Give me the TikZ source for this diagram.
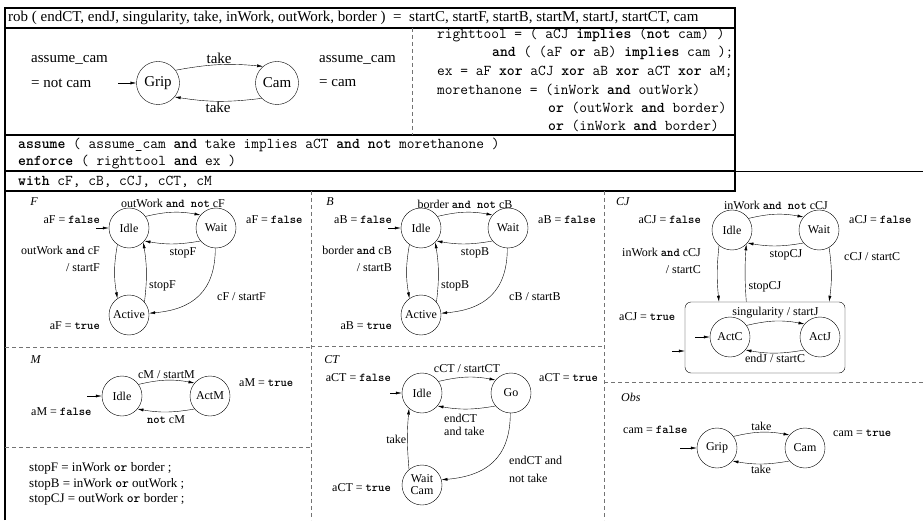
\documentclass[tikz,border=0pt]{standalone}
\usepackage{fontspec}
\setmainfont{Liberation Serif}
\usetikzlibrary{arrows.meta}
\newcommand{\kw}[1]{\texttt{\textbf{#1}}}

\begin{document}
\begin{tikzpicture}[x=1pt,y=1pt,
  st/.style={circle,draw,line width=0.4pt,minimum size=40pt,inner sep=0pt,font=\fontsize{12}{12}\selectfont},
  bigst/.style={st,minimum size=43pt,font=\fontsize{15}{18}\selectfont},
  trans/.style={-{Latex[length=6pt,width=3pt]},line width=0.4pt},
  lbl/.style={inner sep=1pt,font=\fontsize{12}{14}\selectfont},
  biglbl/.style={inner sep=1pt,font=\fontsize{15}{18}\selectfont},
  code/.style={inner sep=0pt,anchor=west,font=\fontsize{15}{18}\selectfont\ttfamily},
  sep/.style={dash pattern=on 4pt off 3pt,line width=0.5pt,black!55},
  frame/.style={line width=1.2pt}]

\useasboundingbox (0,0) rectangle (923,520);

% frame of the specification
\draw[frame] (5,0) -- (5,512) -- (735,512) -- (735,329) -- (5,329);
\draw[frame] (5,492) -- (735,492);
\draw[frame] (5,385) -- (735,385);
\draw[frame] (5,349) -- (735,349);
\draw[line width=0.8pt] (735,349) -- (923,349);
\draw[sep] (412,492) -- (412,385);

% panels
\draw[sep] (311,329) -- (311,0);
\draw[sep] (604,329) -- (604,0);
\draw[sep] (5,173) -- (311,173);
\draw[sep] (311,174) -- (604,174);
\draw[sep] (5,73) -- (311,73);
\draw[sep] (604,138) -- (923,138);

% header
\node[biglbl,anchor=west] (head) at (7,502) {rob ( endCT, endJ, singularity, take, inWork, outWork, border ) \ = \ startC, startF, startB, startM, startJ, startCT, cam};

% assumption automaton
\node[biglbl,anchor=west] (asmL) at (30,460) {assume\_cam};
\node[biglbl,anchor=west] (asmLv) at (30,437) {= not cam};
\node[bigst] (gripT) at (158,437) {Grip};
\node[bigst] (camT) at (277,437) {Cam};
\node[biglbl,anchor=west] (asmR) at (318,460) {assume\_cam};
\node[biglbl,anchor=west] (asmRv) at (318,437) {= cam};
\coordinate (gripTin) at (118,437);
\draw[trans] (gripTin) -- (gripT);
\draw[trans] (gripT.36) to[bend left=8] node[above,biglbl] (takeT1) {take} (camT.130);
\draw[trans] (camT.-135) to[bend left=8] node[below,biglbl] (takeT2) {take} (gripT.-40);

% definitions
\node[code] (rt1) at (437,485) {righttool = ( aCJ \textbf{implies} (\textbf{not} cam) )};
\node[code] (rt2) at (492,467) {\textbf{and} ( (aF \textbf{or} aB) \textbf{implies} cam );};
\node[code] (exDef) at (437,448) {ex = aF \textbf{xor} aCJ \textbf{xor} aB \textbf{xor} aCT \textbf{xor} aM;};
\node[code] (mo1) at (437,430) {morethanone = (inWork \textbf{and} outWork)};
\node[code] (mo2) at (548,412) {\textbf{or} (outWork \textbf{and} border)};
\node[code] (mo3) at (548,394) {\textbf{or} (inWork \textbf{and} border)};

\node[code] (asmLine) at (18,375) {\textbf{assume} ( assume\_cam \textbf{and} take implies aCT \textbf{and not} morethanone )};
\node[code] (enfLine) at (18,358) {\textbf{enforce} ( righttool \textbf{and} ex )};
\node[code] (withLine) at (18,338) {\textbf{with} cF, cB, cCJ, cCT, cM};

% F
\node[lbl] (nameF) at (34,318) {\textit{F}};
\node[st] (idleF) at (129,292) {Idle};
\node[st] (waitF) at (216,292) {Wait};
\node[st] (activeF) at (129,205) {Active};
\node[lbl,anchor=east] (aFl) at (101,300) {aF = \kw{false}};
\node[lbl,anchor=west] (aFr) at (245,300) {aF = \kw{false}};
\node[lbl,anchor=east] (aFt) at (101,194) {aF = \kw{true}};
\coordinate (idleFin) at (96,292);
\draw[trans] (idleFin) -- (idleF);
\draw[trans] (idleF.35) to[bend left=12] node[above=3pt,lbl] (lblF1) {outWork \kw{and not} cF} (waitF.140);
\draw[trans] (waitF.-140) to[bend left=10] node[below=3pt,lbl,pos=0.3] (lblF2) {stopF} (idleF.-40);
\draw[trans] (idleF.-125) to[bend right=10] (activeF.125);
\node[lbl,anchor=east] (lblF3) at (101,270) {outWork \kw{and} cF};
\node[lbl,anchor=east] (lblF4) at (101,252) {/ startF};
\draw[trans] (activeF.40) to[bend right=8] node[right=2pt,lbl,pos=0.25] (lblF5) {stopF} (idleF.-45);
\draw[trans] (waitF.-92) to[out=-90,in=5,looseness=1.2] (activeF.5);
\node[lbl,anchor=west] (lblF6) at (216,223) {cF / startF};

% B
\node[lbl] (nameB) at (330,318) {\textit{B}};
\node[st] (idleB) at (421,292) {Idle};
\node[st] (waitB) at (508,292) {Wait};
\node[st] (activeB) at (421,205) {Active};
\node[lbl,anchor=east] (aBl) at (393,300) {aB = \kw{false}};
\node[lbl,anchor=west] (aBr) at (537,300) {aB = \kw{false}};
\node[lbl,anchor=east] (aBt) at (393,194) {aB = \kw{true}};
\coordinate (idleBin) at (388,292);
\draw[trans] (idleBin) -- (idleB);
\draw[trans] (idleB.35) to[bend left=12] node[above=3pt,lbl] (lblB1) {border \kw{and not} cB} (waitB.140);
\draw[trans] (waitB.-140) to[bend left=10] node[below=3pt,lbl,pos=0.3] (lblB2) {stopB} (idleB.-40);
\draw[trans] (idleB.-125) to[bend right=10] (activeB.125);
\node[lbl,anchor=east] (lblB3) at (393,270) {border \kw{and} cB};
\node[lbl,anchor=east] (lblB4) at (393,252) {/ startB};
\draw[trans] (activeB.40) to[bend right=8] node[right=2pt,lbl,pos=0.25] (lblB5) {stopB} (idleB.-45);
\draw[trans] (waitB.-92) to[out=-90,in=5,looseness=1.2] (activeB.5);
\node[lbl,anchor=west] (lblB6) at (508,223) {cB / startB};

% CJ
\node[lbl,anchor=west] (nameCJ) at (615,318) {\textit{CJ}};
\node[st] (idleCJ) at (732,290) {Idle};
\node[st] (waitCJ) at (819,290) {Wait};
\node[draw,rounded corners=6pt,line width=0.4pt,minimum width=160pt,minimum height=71pt,inner sep=0pt] (actBox) at (765,182.5) {};
\node[st] (actC) at (730,183) {ActC};
\node[st] (actJ) at (820,183) {ActJ};
\node[lbl,anchor=east] (aCJf) at (702,300) {aCJ = \kw{false}};
\node[lbl,anchor=west] (aCJr) at (848,300) {aCJ = \kw{false}};
\node[lbl,anchor=west] (aCJt) at (618,203) {aCJ = \kw{true}};
\draw[trans] (idleCJ.35) to[bend left=12] node[above=3pt,lbl] (lblCJ1) {inWork \kw{and not} cCJ} (waitCJ.140);
\draw[trans] (waitCJ.-140) to[bend left=10] node[below=3pt,lbl,pos=0.3] (lblCJ2) {stopCJ} (idleCJ.-40);
\node[lbl,anchor=east] (lblCJ3) at (702,268) {inWork \kw{and} cCJ};
\node[lbl,anchor=east] (lblCJ4) at (702,250) {/ startC};
\draw[trans] (idleCJ.-130) to[bend right=6] (idleCJ.-130 |- actBox.north);
\draw[trans] (idleCJ.-45 |- actBox.north) to[bend left=4] node[right=2pt,lbl,pos=0.25] (lblCJ5) {stopCJ} (idleCJ.-45);
\draw[trans] (waitCJ.-60) to[bend left=8] (waitCJ.-60 |- actBox.north);
\node[lbl,anchor=west] (lblCJ6) at (843,263) {cCJ / startC};
\coordinate (boxIn) at (672,169);
\draw[trans] (boxIn) -- (boxIn -| actBox.west);
\coordinate (actCin) at (695,183);
\draw[trans] (actCin) -- (actC);
\draw[trans] (actC.35) to[bend left=12] node[above=2pt,lbl] (lblCJ7) {singularity / startJ} (actJ.140);
\draw[trans] (actJ.-140) to[bend left=10] node[below,lbl] (lblCJ8) {endJ / startC} (actC.-40);

% M
\node[lbl] (nameM) at (36,160) {\textit{M}};
\node[st] (idleM) at (122,124) {Idle};
\node[st] (actM) at (210,124) {ActM};
\coordinate (idleMin) at (87,124);
\draw[trans] (idleMin) -- (idleM);
\draw[trans] (idleM.35) to[bend left=12] node[above,lbl] (lblM1) {cM / startM} (actM.140);
\draw[trans] (actM.-140) to[bend left=10] node[below=3pt,lbl] (lblM2) {\kw{not} cM} (idleM.-40);
\node[lbl,anchor=west] (aMt) at (238,137) {aM = \kw{true}};
\node[lbl,anchor=west] (aMf) at (30,108) {aM = \kw{false}};

% stop conditions
\node[lbl,anchor=west,font=\fontsize{13}{15}\selectfont] (stopFdef) at (28,52) {stopF = inWork \kw{or} border ;};
\node[lbl,anchor=west,font=\fontsize{13}{15}\selectfont] (stopBdef) at (28,36) {stopB = inWork \kw{or} outWork ;};
\node[lbl,anchor=west,font=\fontsize{13}{15}\selectfont] (stopCJdef) at (28,21) {stopCJ = outWork \kw{or} border ;};

% CT
\node[lbl] (nameCT) at (332,160) {\textit{CT}};
\node[st] (idleCT) at (422,127) {Idle};
\node[st] (goCT) at (511,127) {Go};
\node[st,align=center] (waitCam) at (422,35) {Wait\\Cam};
\coordinate (idleCTin) at (390,127);
\draw[trans] (idleCTin) -- (idleCT);
\node[lbl,anchor=east] (aCTf) at (392,142) {aCT = \kw{false}};
\node[lbl,anchor=west] (aCTt) at (538,142) {aCT = \kw{true}};
\node[lbl,anchor=east] (aCTw) at (392,32) {aCT = \kw{true}};
\draw[trans] (idleCT.35) to[bend left=12] node[above=3pt,lbl] (lblCT1) {cCT / startCT} (goCT.140);
\draw[trans] (goCT.-140) to[bend left=10] (idleCT.-40);
\node[lbl,anchor=north west,align=left,font=\fontsize{12}{13}\selectfont] (lblCT2) at (443,107) {endCT\\and take};
\draw[trans] (goCT.-92) to[out=-90,in=5,looseness=1.2] (waitCam.15);
\node[lbl,anchor=north west,align=left,font=\fontsize{12}{18}\selectfont] (lblCT3) at (508,65) {endCT and\\not take};
\draw[trans] (waitCam.130) to[bend left=5] node[left,lbl] (lblCT4) {take} (idleCT.-130);

% Obs
\node[lbl,anchor=west] (nameObs) at (620,123) {\textit{Obs}};
\node[lbl,anchor=west] (camFalse) at (622,90) {cam = \kw{false}};
\node[st] (gripO) at (717,72) {Grip};
\node[st] (camO) at (805,72) {Cam};
\coordinate (gripOin) at (680,72);
\draw[trans] (gripOin) -- (gripO);
\draw[trans] (gripO.35) to[bend left=12] node[above,lbl] (lblO1) {take} (camO.140);
\draw[trans] (camO.-140) to[bend left=10] node[below,lbl] (lblO2) {take} (gripO.-40);
\node[lbl,anchor=west] (camTrue) at (832,87) {cam = \kw{true}};

\end{tikzpicture}
\end{document}
